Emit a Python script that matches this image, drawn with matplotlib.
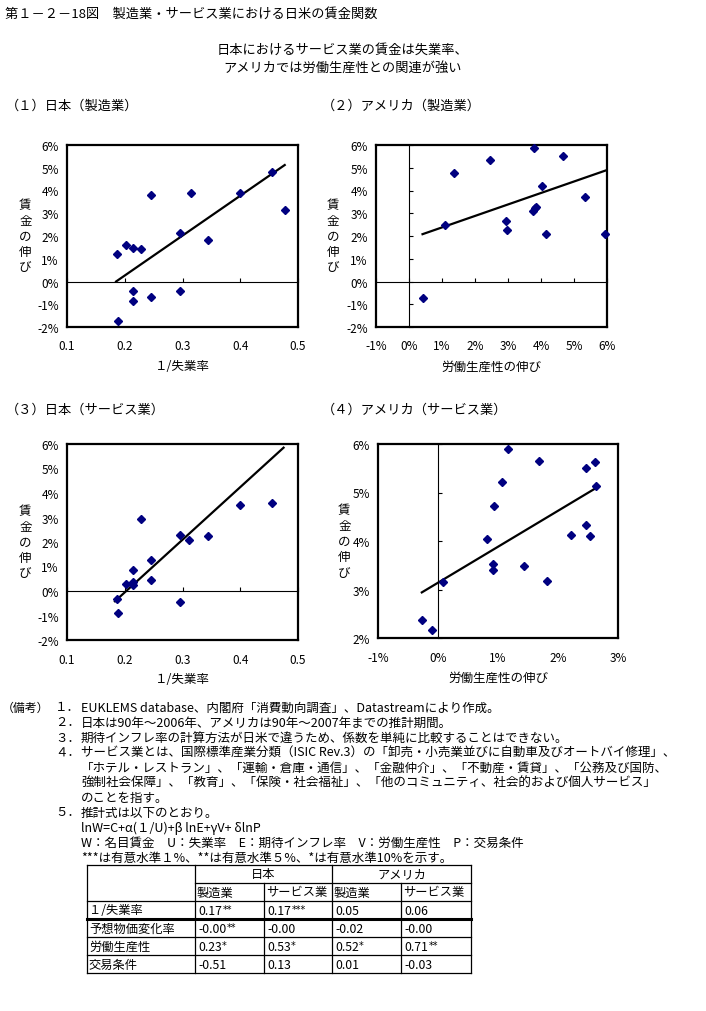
import matplotlib
matplotlib.use('Agg')
import matplotlib.pyplot as plt

plt.rcParams['font.family'] = ['Noto Sans CJK JP', 'DejaVu Sans']

W, H = 706, 1012
NAVY = '#000080'

# (1) 日本（製造業）: x = 1/失業率, y = 賃金の伸び(%)
jp_mfg_x = [0.187, 0.202, 0.214, 0.228, 0.245, 0.314, 0.295, 0.345, 0.400, 0.455, 0.477,
            0.214, 0.214, 0.245, 0.295, 0.189]
jp_mfg_y = [1.22, 1.61, 1.47, 1.42, 3.80, 3.90, 2.13, 1.82, 3.87, 4.81, 3.14,
            -0.43, -0.86, -0.69, -0.43, -1.75]
jp_mfg_fit_x = [0.185, 0.477]
jp_mfg_fit_y = [0.0, 5.12]

# (2) アメリカ（製造業）: x = 労働生産性の伸び(%)
us_mfg_x = [0.41, 1.09, 1.37, 2.45, 2.94, 2.97, 3.79, 3.75, 3.81, 3.86, 4.03, 4.15, 4.68, 5.33, 5.93]
us_mfg_y = [-0.73, 2.48, 4.77, 5.34, 2.65, 2.26, 5.85, 3.12, 3.21, 3.28, 4.18, 2.07, 5.51, 3.71, 2.08]
us_mfg_fit_x = [0.41, 6.0]
us_mfg_fit_y = [2.08, 4.90]

# (3) 日本（サービス業）
jp_svc_x = [0.186, 0.189, 0.202, 0.214, 0.214, 0.214, 0.228, 0.245, 0.245, 0.295, 0.295,
            0.312, 0.345, 0.400, 0.455]
jp_svc_y = [-0.33, -0.90, 0.30, 0.25, 0.35, 0.86, 2.92, 1.27, 0.45, 2.29, -0.45,
            2.08, 2.25, 3.51, 3.61]
jp_svc_fit_x = [0.183, 0.475]
jp_svc_fit_y = [-0.42, 5.85]

# (4) アメリカ（サービス業）
us_svc_x = [-0.27, -0.10, 0.08, 0.81, 0.91, 0.91, 0.94, 1.06, 1.17, 1.43, 1.69, 1.82,
            2.22, 2.47, 2.47, 2.53, 2.61, 2.63]
us_svc_y = [2.38, 2.16, 3.16, 4.04, 3.53, 3.41, 4.72, 5.21, 5.89, 3.49, 5.65, 3.18,
            4.13, 5.51, 4.33, 4.11, 5.63, 5.14]
us_svc_fit_x = [-0.27, 2.63]
us_svc_fit_y = [2.94, 5.09]

inv_u_ticks = [0.1, 0.2, 0.3, 0.4, 0.5]
inv_u_labels = ['0.1', '0.2', '0.3', '0.4', '0.5']
wage_ticks = [-2, -1, 0, 1, 2, 3, 4, 5, 6]
wage_labels = ['-2%', '-1%', '0%', '1%', '2%', '3%', '4%', '5%', '6%']
prod_ticks_mfg = [-1, 0, 1, 2, 3, 4, 5, 6]
prod_labels_mfg = ['-1%', '0%', '1%', '2%', '3%', '4%', '5%', '6%']
prod_ticks_svc = [-1, 0, 1, 2, 3]
prod_labels_svc = ['-1%', '0%', '1%', '2%', '3%']
wage_ticks_svc = [2, 3, 4, 5, 6]
wage_labels_svc = ['2%', '3%', '4%', '5%', '6%']

# 推計結果の表
col_heads = ['製造業', 'サービス業', '製造業', 'サービス業']
row_heads = ['１/失業率', '予想物価変化率', '労働生産性', '交易条件']
coef = [['0.17', '0.17', '0.05', '0.06'],
        ['-0.00', '-0.00', '-0.02', '-0.00'],
        ['0.23', '0.53', '0.52', '0.71'],
        ['-0.51', '0.13', '0.01', '-0.03']]
stars = [['**', '***', '', ''],
         ['**', '', '', ''],
         ['*', '*', '*', '**'],
         ['', '', '', '']]

notes = [
    ('１．', 'EUKLEMS database、内閣府「消費動向調査」、Datastreamにより作成。'),
    ('２．', '日本は90年～2006年、アメリカは90年～2007年までの推計期間。'),
    ('３．', '期待インフレ率の計算方法が日米で違うため、係数を単純に比較することはできない。'),
    ('４．', 'サービス業とは、国際標準産業分類（ISIC Rev.3）の「卸売・小売業並びに自動車及びオートバイ修理」、'),
    ('', '「ホテル・レストラン」、「運輸・倉庫・通信」、「金融仲介」、「不動産・賃貸」、「公務及び国防、'),
    ('', '強制社会保障」、「教育」、「保険・社会福祉」、「他のコミュニティ、社会的および個人サービス」'),
    ('', 'のことを指す。'),
    ('５．', '推計式は以下のとおり。'),
    ('', 'lnW=C+α(１/U)+β lnE+γV+ δlnP'),
    ('', 'W：名目賃金　U：失業率　E：期待インフレ率　V：労働生産性　P：交易条件'),
    ('', '***は有意水準１%、**は有意水準５%、*は有意水準10%を示す。'),
]

fig = plt.figure(figsize=(W / 100, H / 100), dpi=100)


def px_axes(l, t, r, b):
    return fig.add_axes([l / W, 1 - b / H, (r - l) / W, (b - t) / H])


def ftext(x, y, s, **kw):
    return fig.text(x / W, 1 - y / H, s, va='center', **kw)


def panel(box, x, y, fx, fy, xlim, xticks, xlabels, ylim, yticks, ylabels,
          xlabel, ylab_x, hzero=True, vzero=False):
    ax = px_axes(*box)
    ax.set_xlim(*xlim)
    ax.set_ylim(*ylim)
    ax.set_xticks(xticks)
    ax.set_xticklabels(xlabels)
    ax.set_yticks(yticks)
    ax.set_yticklabels(ylabels)
    ax.tick_params(length=0, labelsize=8.5)
    ax.tick_params(axis='x', pad=9)
    ax.tick_params(axis='y', pad=6)
    for sp in ax.spines.values():
        sp.set_linewidth(1.6)
    if hzero:
        sx = ax.secondary_xaxis(0, transform=ax.transData)
        sx.set_xticks(xticks)
        sx.tick_params(direction='in', length=3, width=0.8, labelbottom=False)
        for sp in sx.spines.values():
            sp.set_linewidth(0.8)
    if vzero:
        sy = ax.secondary_yaxis(0, transform=ax.transData)
        sy.set_yticks(yticks)
        sy.tick_params(direction='in', length=3, width=0.8, labelleft=False)
        for sp in sy.spines.values():
            sp.set_linewidth(0.8)
    ax.plot(fx, fy, color='black', lw=1.6, zorder=3)
    ax.plot(x, y, 'D', color=NAVY, ms=4.5, zorder=4, clip_on=False)
    ax.text(ylab_x, 0.5, '賃\n金\nの\n伸\nび', transform=ax.transAxes,
            ha='center', va='center', fontsize=9, linespacing=1.25)
    ax.set_xlabel(xlabel, fontsize=9, labelpad=5)
    return ax


ftext(5, 14, '第１－２－18図　製造業・サービス業における日米の賃金関数', fontsize=9.5)
ftext(343, 50, '日本におけるサービス業の賃金は失業率、', fontsize=9.5, ha='center')
ftext(343, 68, 'アメリカでは労働生産性との関連が強い', fontsize=9.5, ha='center')

ftext(6, 106, '（１）日本（製造業）', fontsize=9.5)
ftext(322, 106, '（２）アメリカ（製造業）', fontsize=9.5)
ftext(6, 410, '（３）日本（サービス業）', fontsize=9.5)
ftext(322, 410, '（４）アメリカ（サービス業）', fontsize=9.5)

panel((67, 146, 298, 328), jp_mfg_x, jp_mfg_y, jp_mfg_fit_x, jp_mfg_fit_y,
      (0.1, 0.5), inv_u_ticks, inv_u_labels, (-2, 6), wage_ticks, wage_labels,
      '１/失業率', -0.18)
panel((376, 146, 607, 328), us_mfg_x, us_mfg_y, us_mfg_fit_x, us_mfg_fit_y,
      (-1, 6), prod_ticks_mfg, prod_labels_mfg, (-2, 6), wage_ticks, wage_labels,
      '労働生産性の伸び', -0.186, vzero=True)
panel((67, 445, 298, 641), jp_svc_x, jp_svc_y, jp_svc_fit_x, jp_svc_fit_y,
      (0.1, 0.5), inv_u_ticks, inv_u_labels, (-2, 6), wage_ticks, wage_labels,
      '１/失業率', -0.18)
panel((378, 445, 618, 639), us_svc_x, us_svc_y, us_svc_fit_x, us_svc_fit_y,
      (-1, 3), prod_ticks_svc, prod_labels_svc, (2, 6), wage_ticks_svc, wage_labels_svc,
      '労働生産性の伸び', -0.14, hzero=False, vzero=True)

# notes
nfs = 9.0
ny = 708
ftext(2, ny, '（備考）', fontsize=8.6)
for num, line in notes:
    if num:
        ftext(55, ny, num, fontsize=nfs)
    ftext(81, ny, line, fontsize=nfs)
    ny += 15

# table
cols = [87, 195, 264, 332, 401, 471]
rows = [866, 884, 902, 920, 938, 956, 974]
tab = px_axes(cols[0], rows[0], cols[-1], rows[-1])
tab.set_xlim(cols[0], cols[-1])
tab.set_ylim(rows[-1], rows[0])
tab.axis('off')
lk = dict(color='black', lw=0.9, clip_on=False)
tab.plot([cols[0], cols[-1]], [rows[0], rows[0]], **lk)
tab.plot([cols[1], cols[-1]], [rows[1], rows[1]], **lk)
for r in rows[2:]:
    tab.plot([cols[0], cols[-1]], [r, r], **lk)
tab.plot([cols[0], cols[-1]], [rows[3], rows[3]], color='black', lw=2.2, clip_on=False)
for c in [cols[0], cols[1], cols[3], cols[5]]:
    tab.plot([c, c], [rows[0], rows[-1]], **lk)
for c in [cols[2], cols[4]]:
    tab.plot([c, c], [rows[1], rows[-1]], **lk)

tfs = 8.8
tab.text((cols[1] + cols[3]) / 2, (rows[0] + rows[1]) / 2, '日本', ha='center', va='center', fontsize=tfs)
tab.text((cols[3] + cols[5]) / 2, (rows[0] + rows[1]) / 2, 'アメリカ', ha='center', va='center', fontsize=tfs)
for j, h in enumerate(col_heads):
    tab.text(cols[j + 1] + 2, (rows[1] + rows[2]) / 2, h, va='center', fontsize=tfs)
for i, rh in enumerate(row_heads):
    yc = (rows[i + 2] + rows[i + 3]) / 2
    tab.text(cols[0] + 2, yc, rh, va='center', fontsize=tfs)
    for j in range(4):
        t = tab.text(cols[j + 1] + 3, yc + 1, coef[i][j], va='center', fontsize=tfs)
        if stars[i][j]:
            tab.annotate(stars[i][j], xy=(1, 1), xycoords=t, xytext=(0.3, 0.5),
                         textcoords='offset points', va='top', ha='left', fontsize=7,
                         family='DejaVu Sans')

fig.savefig('out.png', dpi=100)
